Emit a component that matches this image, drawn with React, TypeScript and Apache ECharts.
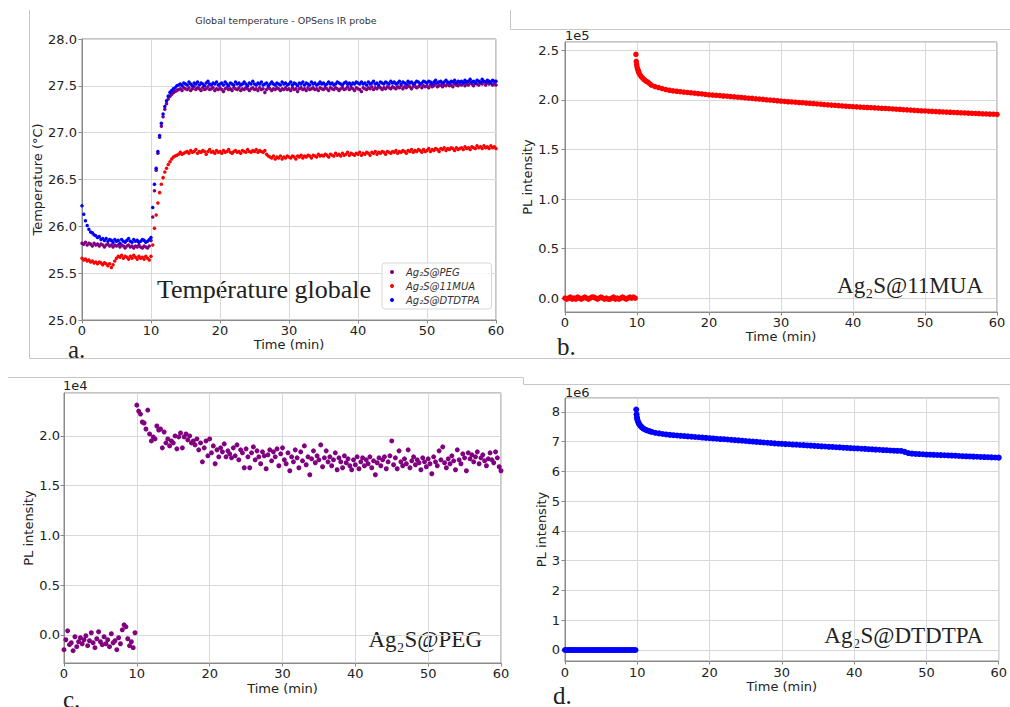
import React, { useEffect, useRef } from "react";
import * as echarts from "echarts";

// ---------- DATA ----------
// Panel a: global temperature (°C), sampled every 0.25 min from 0 to 60 min
const TEMP_STEP_MIN = 0.25;
const tempPEG = [
  25.82, 25.81, 25.83, 25.80, 25.82, 25.81, 25.79, 25.82, 25.80, 25.81, 25.79, 25.81, 25.80, 25.78, 25.80, 25.81, 25.79, 25.80, 25.78, 25.80,
  25.79, 25.80, 25.78, 25.80, 25.79, 25.77, 25.79, 25.80, 25.78, 25.79, 25.77, 25.79, 25.78, 25.80, 25.78, 25.77, 25.79, 25.78, 25.77, 25.79,
  25.85, 26.10, 26.38, 26.60, 26.78, 26.95, 27.07, 27.17, 27.25, 27.31, 27.36, 27.39, 27.41, 27.43, 27.44, 27.45, 27.46, 27.47, 27.45, 27.48,
  27.47, 27.46, 27.48, 27.45, 27.47, 27.49, 27.46, 27.48, 27.47, 27.45, 27.48, 27.46, 27.47, 27.49, 27.46, 27.47, 27.48, 27.45, 27.47, 27.46,
  27.48, 27.46, 27.44, 27.47, 27.48, 27.46, 27.47, 27.45, 27.48, 27.47, 27.46, 27.48, 27.45, 27.47, 27.46, 27.48, 27.47, 27.45, 27.47, 27.48,
  27.46, 27.47, 27.45, 27.48, 27.46, 27.47, 27.43, 27.46, 27.48, 27.47, 27.45, 27.47, 27.46, 27.48, 27.47, 27.45, 27.47, 27.46, 27.48, 27.46,
  27.47, 27.45, 27.48, 27.46, 27.47, 27.44, 27.47, 27.48, 27.46, 27.47, 27.45, 27.48, 27.46, 27.47, 27.48, 27.46, 27.47, 27.45, 27.48, 27.47,
  27.46, 27.48, 27.47, 27.45, 27.48, 27.47, 27.46, 27.48, 27.47, 27.45, 27.47, 27.48, 27.46, 27.47, 27.49, 27.46, 27.48, 27.47, 27.45, 27.48,
  27.47, 27.46, 27.44, 27.48, 27.47, 27.46, 27.48, 27.47, 27.49, 27.46, 27.48, 27.47, 27.49, 27.48, 27.46, 27.48, 27.47, 27.49, 27.48, 27.47,
  27.49, 27.48, 27.47, 27.49, 27.48, 27.50, 27.47, 27.49, 27.48, 27.50, 27.49, 27.47, 27.49, 27.50, 27.48, 27.49, 27.51, 27.48, 27.50, 27.49,
  27.50, 27.48, 27.51, 27.49, 27.50, 27.52, 27.49, 27.50, 27.51, 27.49, 27.51, 27.50, 27.52, 27.50, 27.51, 27.49, 27.52, 27.51, 27.50, 27.52,
  27.51, 27.53, 27.50, 27.52, 27.51, 27.53, 27.52, 27.50, 27.53, 27.52, 27.51, 27.53, 27.52, 27.54, 27.51, 27.53, 27.52, 27.54, 27.51, 27.52,
  27.51,
];
const temp11MUA = [
  25.66, 25.64, 25.65, 25.63, 25.64, 25.62, 25.63, 25.61, 25.62, 25.60, 25.62, 25.61, 25.59, 25.61, 25.60, 25.58, 25.60, 25.56, 25.59, 25.63,
  25.66, 25.68, 25.67, 25.69, 25.66, 25.68, 25.67, 25.65, 25.68, 25.66, 25.69, 25.67, 25.65, 25.68, 25.66, 25.67, 25.65, 25.68, 25.66, 25.64,
  25.68, 25.80, 25.98, 26.12, 26.25, 26.36, 26.45, 26.52, 26.58, 26.62, 26.66, 26.69, 26.72, 26.74, 26.75, 26.76, 26.77, 26.79, 26.77, 26.78,
  26.79, 26.80, 26.78, 26.81, 26.79, 26.80, 26.82, 26.78, 26.80, 26.79, 26.81, 26.80, 26.77, 26.80, 26.82, 26.79, 26.80, 26.78, 26.81, 26.79,
  26.80, 26.78, 26.81, 26.79, 26.80, 26.82, 26.79, 26.78, 26.80, 26.81, 26.79, 26.80, 26.78, 26.81, 26.80, 26.79, 26.82, 26.80, 26.79, 26.81,
  26.80, 26.82, 26.79, 26.81, 26.80, 26.79, 26.81, 26.77, 26.75, 26.74, 26.73, 26.75, 26.72, 26.74, 26.73, 26.75, 26.72, 26.74, 26.73, 26.75,
  26.74, 26.73, 26.75, 26.74, 26.72, 26.75, 26.74, 26.76, 26.73, 26.75, 26.74, 26.76, 26.75, 26.73, 26.76, 26.75, 26.74, 26.77, 26.75, 26.76,
  26.75, 26.77, 26.76, 26.74, 26.77, 26.76, 26.75, 26.78, 26.76, 26.77, 26.75, 26.78, 26.76, 26.77, 26.79, 26.76, 26.78, 26.77, 26.76, 26.78,
  26.77, 26.79, 26.76, 26.78, 26.77, 26.79, 26.78, 26.76, 26.79, 26.78, 26.80, 26.77, 26.79, 26.78, 26.80, 26.79, 26.77, 26.80, 26.79, 26.78,
  26.80, 26.79, 26.81, 26.78, 26.80, 26.79, 26.81, 26.80, 26.78, 26.81, 26.80, 26.82, 26.79, 26.81, 26.80, 26.82, 26.81, 26.79, 26.82, 26.80,
  26.81, 26.83, 26.80, 26.82, 26.81, 26.83, 26.82, 26.80, 26.83, 26.82, 26.84, 26.81, 26.83, 26.82, 26.84, 26.83, 26.81, 26.84, 26.82, 26.83,
  26.84, 26.82, 26.85, 26.83, 26.84, 26.82, 26.85, 26.84, 26.83, 26.86, 26.84, 26.85, 26.83, 26.86, 26.84, 26.85, 26.83, 26.86, 26.84, 26.85,
  26.83,
];
const tempDTDTPA = [
  26.22, 26.13, 26.06, 26.01, 25.97, 25.94, 25.93, 25.91, 25.90, 25.88, 25.89, 25.86, 25.87, 25.85, 25.87, 25.84, 25.86, 25.85, 25.83, 25.86,
  25.84, 25.85, 25.82, 25.86, 25.84, 25.83, 25.85, 25.87, 25.84, 25.83, 25.86, 25.84, 25.85, 25.83, 25.84, 25.86, 25.85, 25.83, 25.84, 25.86,
  25.88, 26.20, 26.45, 26.62, 26.80, 26.97, 27.10, 27.20, 27.28, 27.34, 27.39, 27.43, 27.45, 27.47, 27.48, 27.50, 27.51, 27.52, 27.50, 27.53,
  27.52, 27.51, 27.54, 27.52, 27.50, 27.53, 27.52, 27.54, 27.51, 27.53, 27.52, 27.50, 27.53, 27.55, 27.52, 27.51, 27.53, 27.52, 27.54, 27.51,
  27.52, 27.53, 27.51, 27.54, 27.52, 27.50, 27.53, 27.52, 27.51, 27.54, 27.52, 27.53, 27.51, 27.52, 27.54, 27.52, 27.50, 27.53, 27.52, 27.55,
  27.52, 27.51, 27.53, 27.52, 27.54, 27.51, 27.52, 27.53, 27.50, 27.52, 27.54, 27.52, 27.51, 27.53, 27.52, 27.51, 27.54, 27.52, 27.53, 27.51,
  27.52, 27.54, 27.51, 27.53, 27.52, 27.50, 27.53, 27.52, 27.54, 27.51, 27.53, 27.52, 27.51, 27.54, 27.52, 27.53, 27.51, 27.52, 27.54, 27.52,
  27.53, 27.51, 27.52, 27.54, 27.52, 27.53, 27.51, 27.52, 27.54, 27.53, 27.52, 27.51, 27.53, 27.54, 27.52, 27.53, 27.51, 27.53, 27.52, 27.54,
  27.53, 27.52, 27.54, 27.52, 27.53, 27.51, 27.54, 27.52, 27.53, 27.55, 27.52, 27.53, 27.51, 27.54, 27.53, 27.52, 27.54, 27.53, 27.52, 27.55,
  27.53, 27.54, 27.52, 27.53, 27.55, 27.52, 27.54, 27.53, 27.52, 27.55, 27.53, 27.54, 27.52, 27.53, 27.55, 27.54, 27.52, 27.53, 27.55, 27.54,
  27.53, 27.55, 27.54, 27.52, 27.54, 27.56, 27.53, 27.54, 27.55, 27.53, 27.54, 27.56, 27.54, 27.53, 27.55, 27.54, 27.56, 27.53, 27.55, 27.54,
  27.55, 27.53, 27.56, 27.54, 27.55, 27.57, 27.54, 27.55, 27.53, 27.56, 27.55, 27.54, 27.57, 27.55, 27.54, 27.56, 27.55, 27.53, 27.56, 27.55,
  27.55,
];

// Panel b: Ag2S@11MUA PL intensity (x1e5)
const PL_OFF_STEP_MIN = 0.25;
const pl11MUAOff = [
  0.00, -0.01, 0.00, 0.01, -0.01, 0.00, -0.01, 0.01, 0.00, -0.01, 0.00, 0.01, 0.00, -0.01, 0.00, 0.01, 0.01, 0.00, -0.01, 0.00,
  0.01, 0.00, -0.01, 0.00, -0.01, -0.01, 0.00, 0.01, -0.01, 0.00, -0.01, 0.00, 0.01, 0.00, -0.01, 0.00, 0.01, 0.00, 0.01, 0.00,
];
const pl11MUAOn: [number, number][] = [
  [9.85, 2.46], [9.9, 2.39], [9.95, 2.36], [10.0, 2.335], [10.1, 2.31], [10.2, 2.29], [10.3, 2.27], [10.45, 2.25], [10.6, 2.235],
  [10.8, 2.22], [11.0, 2.205], [11.25, 2.19], [11.5, 2.18], [11.75, 2.165], [12.0, 2.15], [12.5, 2.135], [13, 2.125], [13.5, 2.115],
  [14, 2.105], [14.5, 2.098], [15, 2.092], [15.5, 2.088], [16, 2.083], [16.5, 2.08], [17, 2.076], [17.5, 2.072], [18, 2.068],
  [18.5, 2.064], [19, 2.061], [19.5, 2.057], [20, 2.052], [20.5, 2.05], [21, 2.047], [21.5, 2.044], [22, 2.04], [22.5, 2.038],
  [23, 2.034], [23.5, 2.031], [24, 2.028], [24.5, 2.025], [25, 2.022], [25.5, 2.018], [26, 2.016], [26.5, 2.012], [27, 2.009],
  [27.5, 2.006], [28, 2.002], [28.5, 1.999], [29, 1.996], [29.5, 1.992], [30, 1.988], [30.5, 1.985], [31, 1.982], [31.5, 1.98],
  [32, 1.977], [32.5, 1.974], [33, 1.972], [33.5, 1.969], [34, 1.966], [34.5, 1.963], [35, 1.96], [35.5, 1.957], [36, 1.954],
  [36.5, 1.951], [37, 1.948], [37.5, 1.946], [38, 1.943], [38.5, 1.94], [39, 1.937], [39.5, 1.935], [40, 1.932], [40.5, 1.93],
  [41, 1.928], [41.5, 1.926], [42, 1.924], [42.5, 1.922], [43, 1.92], [43.5, 1.918], [44, 1.916], [44.5, 1.914], [45, 1.912],
  [45.5, 1.909], [46, 1.907], [46.5, 1.905], [47, 1.902], [47.5, 1.9], [48, 1.898], [48.5, 1.895], [49, 1.893], [49.5, 1.891],
  [50, 1.889], [50.5, 1.887], [51, 1.885], [51.5, 1.883], [52, 1.881], [52.5, 1.879], [53, 1.877], [53.5, 1.876], [54, 1.874],
  [54.5, 1.872], [55, 1.87], [55.5, 1.869], [56, 1.867], [56.5, 1.865], [57, 1.864], [57.5, 1.862], [58, 1.86], [58.5, 1.859],
  [59, 1.857], [59.5, 1.856], [60, 1.854],
];

// Panel c: Ag2S@PEG PL intensity (x1e4), sampled every 0.25 min
const PEG_STEP_MIN = 0.25;
const plPEG = [
  -0.15, -0.05, 0.04, -0.10, -0.08, -0.16, -0.02, -0.12, -0.07, -0.03, -0.09, -0.05, -0.01, -0.11, -0.06, 0.02, -0.08, -0.13, -0.04, 0.03,
  -0.07, -0.10, -0.02, -0.09, -0.05, -0.12, 0.01, -0.08, -0.06, -0.15, -0.03, -0.09, 0.05, 0.10, 0.08, -0.04, -0.11, -0.07, -0.13, 0.02,
  2.31, 2.25, 2.22, 2.14, 2.13, 2.07, 2.26, 2.02, 1.95, 1.99, 1.97, 2.10, 2.06, 2.07, 1.88, 2.04, 1.93, 1.97, 1.90, 1.95,
  1.93, 2.00, 1.87, 1.99, 2.03, 1.88, 1.99, 2.02, 1.96, 2.00, 1.93, 1.95, 1.91, 1.97, 1.86, 1.93, 1.74, 1.88, 1.95, 1.80,
  1.97, 1.83, 1.90, 1.72, 1.86, 1.79, 1.88, 1.84, 1.92, 1.79, 1.85, 1.82, 1.78, 1.88, 1.80, 1.91, 1.76, 1.86, 1.83, 1.68,
  1.87, 1.79, 1.68, 1.83, 1.89, 1.76, 1.85, 1.79, 1.72, 1.84, 1.80, 1.67, 1.81, 1.86, 1.75, 1.84, 1.79, 1.87, 1.70, 1.82,
  1.88, 1.76, 1.72, 1.83, 1.65, 1.79, 1.74, 1.86, 1.78, 1.68, 1.84, 1.75, 1.90, 1.71, 1.79, 1.61, 1.77, 1.85, 1.73, 1.80,
  1.76, 1.91, 1.69, 1.78, 1.85, 1.74, 1.79, 1.70, 1.76, 1.83, 1.66, 1.78, 1.74, 1.68, 1.80, 1.73, 1.77, 1.70, 1.66, 1.76,
  1.71, 1.79, 1.67, 1.74, 1.78, 1.70, 1.76, 1.72, 1.79, 1.68, 1.75, 1.61, 1.73, 1.78, 1.70, 1.76, 1.79, 1.67, 1.74, 1.80,
  1.95, 1.71, 1.78, 1.67, 1.85, 1.74, 1.70, 1.77, 1.72, 1.86, 1.68, 1.75, 1.79, 1.71, 1.76, 1.73, 1.66, 1.78, 1.74, 1.69,
  1.77, 1.72, 1.62, 1.79, 1.74, 1.70, 1.85, 1.76, 1.89, 1.73, 1.68, 1.77, 1.72, 1.80, 1.75, 1.66, 1.86, 1.76, 1.72, 1.82,
  1.78, 1.65, 1.83, 1.77, 1.81, 1.74, 1.79, 1.84, 1.72, 1.78, 1.81, 1.75, 1.70, 1.77, 1.83, 1.76, 1.73, 1.84, 1.78, 1.69,
  1.65,
];

// Panel d: Ag2S@DTDTPA PL intensity (x1e6)
const plDTDTPAOff = [
  0, 0, 0, 0, 0, 0, 0, 0, 0, 0, 0, 0, 0, 0, 0, 0, 0, 0, 0, 0,
  0, 0, 0, 0, 0, 0, 0, 0, 0, 0, 0, 0, 0, 0, 0, 0, 0, 0, 0, 0,
];
const plDTDTPAOn: [number, number][] = [
  [9.86, 8.08], [9.9, 7.92], [9.95, 7.82], [10.0, 7.75], [10.1, 7.68], [10.2, 7.62], [10.3, 7.58], [10.45, 7.53], [10.6, 7.49],
  [10.8, 7.45], [11.0, 7.42], [11.25, 7.39], [11.5, 7.37], [11.75, 7.35], [12.0, 7.33], [12.5, 7.30], [13, 7.28], [13.5, 7.26],
  [14, 7.245], [14.5, 7.23], [15, 7.22], [15.5, 7.21], [16, 7.20], [16.5, 7.19], [17, 7.18], [17.5, 7.17], [18, 7.16], [18.5, 7.15],
  [19, 7.14], [19.5, 7.13], [20, 7.12], [20.5, 7.11], [21, 7.10], [21.5, 7.09], [22, 7.085], [22.5, 7.075], [23, 7.065], [23.5, 7.055],
  [24, 7.045], [24.5, 7.035], [25, 7.025], [25.5, 7.015], [26, 7.005], [26.5, 6.995], [27, 6.985], [27.5, 6.975], [28, 6.965],
  [28.5, 6.955], [29, 6.945], [29.5, 6.935], [30, 6.93], [30.5, 6.92], [31, 6.915], [31.5, 6.905], [32, 6.90], [32.5, 6.89],
  [33, 6.885], [33.5, 6.875], [34, 6.87], [34.5, 6.86], [35, 6.855], [35.5, 6.845], [36, 6.84], [36.5, 6.83], [37, 6.825],
  [37.5, 6.815], [38, 6.81], [38.5, 6.80], [39, 6.795], [39.5, 6.785], [40, 6.78], [40.5, 6.775], [41, 6.765], [41.5, 6.76],
  [42, 6.75], [42.5, 6.745], [43, 6.735], [43.5, 6.73], [44, 6.72], [44.5, 6.715], [45, 6.705], [45.5, 6.70], [46, 6.695],
  [46.5, 6.69], [47, 6.66], [47.5, 6.62], [48, 6.60], [48.5, 6.59], [49, 6.585], [49.5, 6.58], [50, 6.57], [50.5, 6.565],
  [51, 6.56], [51.5, 6.555], [52, 6.55], [52.5, 6.545], [53, 6.54], [53.5, 6.535], [54, 6.53], [54.5, 6.52], [55, 6.515],
  [55.5, 6.51], [56, 6.505], [56.5, 6.50], [57, 6.495], [57.5, 6.49], [58, 6.485], [58.5, 6.48], [59, 6.475], [59.5, 6.47], [60, 6.465],
];

const seriesNames = ["Ag₂S@PEG", "Ag₂S@11MUA", "Ag₂S@DTDTPA"];
const sampleLabels = ["Ag₂S@11MUA", "Ag₂S@PEG", "Ag₂S@DTDTPA"];
const panelLetters = ["a.", "b.", "c.", "d."];
const offsetTexts = ["1e5", "1e4", "1e6"];
const chartTitle = "Global temperature - OPSens IR probe";
const panelATag = "Température globale";
const xName = "Time (min)";
const tempName = "Temperature (°C)";
const plName = "PL intensity";

// ---------- STYLE ----------
const SANS = "DejaVu Sans";
const SERIF = "Liberation Serif";
const FRAME = "#8a8a8a";
const GRIDC = "#d9d9d9";
const TXT = "#222";
const PURPLE = "#800080";
const RED = "#ff0000";
const BLUE = "#0000ff";
const DECO = "#c6c6c6";
const FS = 13;

const withStep = (vals: number[], step: number): [number, number][] =>
  vals.map((v, i) => [i * step, v]);

const xAxisFor = (gridIndex: number, nameGap: number, labelMargin: number) => ({
  type: "value",
  gridIndex,
  min: 0,
  max: 60,
  interval: 10,
  name: xName,
  nameLocation: "middle",
  nameGap,
  nameTextStyle: { fontFamily: SANS, fontSize: FS, color: TXT },
  axisLine: { show: true, onZero: false, lineStyle: { color: FRAME, width: 1 } },
  axisTick: { show: true, inside: false, length: 3.5, lineStyle: { color: FRAME } },
  axisLabel: { fontFamily: SANS, fontSize: FS, color: TXT, margin: labelMargin },
  splitLine: { show: true, lineStyle: { color: GRIDC, width: 1 } },
});

const yAxisFor = (
  gridIndex: number,
  min: number,
  max: number,
  step: number,
  decimals: number,
  name: string,
  nameGap: number,
  labelMargin: number,
  splitNumber: number,
  setInterval: boolean
) => ({
  type: "value",
  gridIndex,
  min,
  max,
  ...(setInterval ? { interval: step } : { splitNumber }),
  name,
  nameLocation: "middle",
  nameGap,
  nameRotate: 90,
  nameTextStyle: { fontFamily: SANS, fontSize: FS, color: TXT },
  axisLine: { show: true, onZero: false, lineStyle: { color: FRAME, width: 1 } },
  axisTick: { show: true, inside: false, length: 3.5, lineStyle: { color: FRAME } },
  axisLabel: {
    fontFamily: SANS,
    fontSize: FS,
    color: TXT,
    margin: labelMargin,
    showMinLabel: setInterval,
    showMaxLabel: setInterval,
    formatter: (v: number) => {
      const k = v / step;
      return Math.abs(k - Math.round(k)) < 1e-6 ? v.toFixed(decimals) : "";
    },
  },
  splitLine: { show: true, lineStyle: { color: GRIDC, width: 1 } },
});

const scatter = (
  name: string,
  data: [number, number][],
  color: string,
  size: number,
  idx: number
) => ({
  type: "scatter",
  name,
  data,
  xAxisIndex: idx,
  yAxisIndex: idx,
  symbol: "circle",
  symbolSize: size,
  itemStyle: { color, opacity: 1 },
  silent: true,
});

const text = (
  x: number,
  y: number,
  str: string,
  font: string,
  size: number,
  align: string = "left",
  vAlign: string = "middle",
  color: string = TXT
) => ({
  type: "text",
  x,
  y,
  silent: true,
  style: { text: str, fontFamily: font, fontSize: size, fill: color, align, verticalAlign: vAlign },
});

const line = (x1: number, y1: number, x2: number, y2: number) => ({
  type: "line",
  silent: true,
  shape: { x1, y1, x2, y2 },
  style: { stroke: DECO, lineWidth: 1 },
});

export default function App() {
  const ref = useRef<HTMLDivElement>(null);

  useEffect(() => {
    if (!ref.current) return;
    const chart = echarts.init(ref.current, undefined, { renderer: "svg" });

    const gridBase = { show: true, borderColor: FRAME, borderWidth: 1, backgroundColor: "#fff", containLabel: false };

    const option = {
      animation: false,
      backgroundColor: "#ffffff",
      title: {
        text: chartTitle,
        left: 286,
        top: 15,
        textAlign: "center",
        padding: 0,
        textStyle: { fontFamily: SANS, fontSize: 9.5, fontWeight: "normal", color: "#333" },
      },
      legend: {
        data: seriesNames,
        orient: "vertical",
        left: 382,
        top: 263,
        itemWidth: 18,
        itemHeight: 4,
        itemGap: 4,
        padding: [4, 12, 4, 8],
        icon: "circle",
        borderColor: "#d6d6d6",
        borderWidth: 1,
        borderRadius: 3,
        backgroundColor: "rgba(255,255,255,0.85)",
        textStyle: { fontFamily: SANS, fontSize: 10, fontStyle: "italic", color: "#333" },
        selectedMode: false,
      },
      grid: [
        { ...gridBase, left: 82, top: 39, width: 414, height: 281 },
        { ...gridBase, left: 565, top: 42, width: 432, height: 270 },
        { ...gridBase, left: 64, top: 393, width: 437, height: 270 },
        { ...gridBase, left: 565, top: 398, width: 436, height: 263 },
      ],
      xAxis: [xAxisFor(0, 17, 4), xAxisFor(1, 18, 4), xAxisFor(2, 19, 4), xAxisFor(3, 19, 4.5)],
      yAxis: [
        yAxisFor(0, 25, 28, 0.5, 1, tempName, 36, 5, 6, true),
        yAxisFor(1, -0.14, 2.585, 0.5, 1, plName, 29, 6, 5, false),
        yAxisFor(2, -0.284, 2.432, 0.5, 1, plName, 29, 4, 5, false),
        yAxisFor(3, -0.37, 8.47, 1, 0, plName, 16, 5, 9, false),
      ],
      series: [
        scatter(seriesNames[0], withStep(tempPEG, TEMP_STEP_MIN), PURPLE, 3.5, 0),
        scatter(seriesNames[1], withStep(temp11MUA, TEMP_STEP_MIN), RED, 3.5, 0),
        scatter(seriesNames[2], withStep(tempDTDTPA, TEMP_STEP_MIN), BLUE, 3.5, 0),
        scatter("PL 11MUA", [...withStep(pl11MUAOff, PL_OFF_STEP_MIN), ...pl11MUAOn], RED, 5.5, 1),
        scatter("PL PEG", withStep(plPEG, PEG_STEP_MIN), PURPLE, 5, 2),
        scatter("PL DTDTPA", [...withStep(plDTDTPAOff, PL_OFF_STEP_MIN), ...plDTDTPAOn], BLUE, 6, 3),
      ],
      graphic: [
        // image frame lines
        line(29.5, 10, 29.5, 358.5),
        line(29.5, 358.5, 1010, 358.5),
        line(510.5, 10, 510.5, 29.5),
        line(510.5, 29.5, 1010, 29.5),
        line(8, 377.5, 523.5, 377.5),
        line(523.5, 377.5, 523.5, 384.5),
        line(523.5, 384.5, 1010, 384.5),
        // offset texts
        text(565, 35, offsetTexts[0], SANS, FS),
        text(63, 385, offsetTexts[1], SANS, FS),
        text(565, 392, offsetTexts[2], SANS, FS),
        // sample labels
        text(157, 289, panelATag, SERIF, 26),
        text(983, 285, sampleLabels[0], SERIF, 23, "right"),
        text(482, 639, sampleLabels[1], SERIF, 23, "right"),
        text(983, 635, sampleLabels[2], SERIF, 23, "right"),
        // panel letters
        text(68, 349, panelLetters[0], SERIF, 25),
        text(557, 346, panelLetters[1], SERIF, 25),
        text(63, 699, panelLetters[2], SERIF, 25),
        text(553, 695, panelLetters[3], SERIF, 25),
      ],
    };

    chart.setOption(option as any);
    return () => chart.dispose();
  }, []);

  return (
    <div
      ref={ref}
      style={{ position: "absolute", left: 0, top: 0, width: 1010, height: 707, background: "#fff" }}
    />
  );
}
